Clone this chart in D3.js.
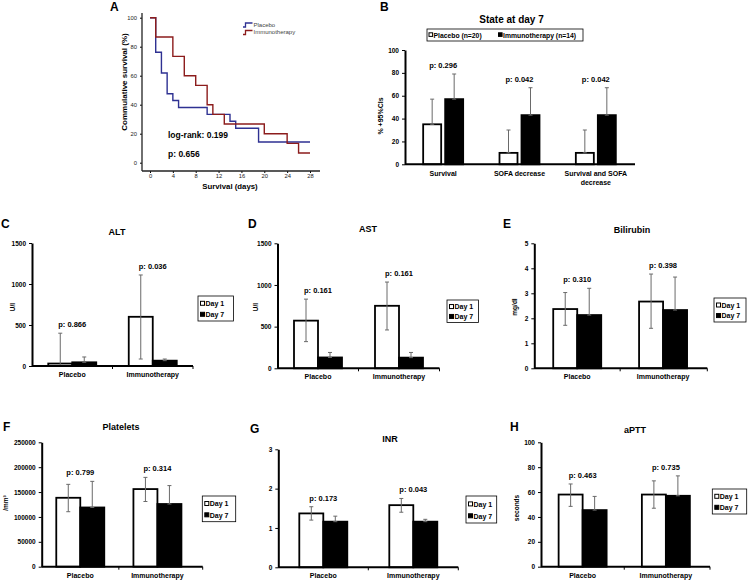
<!DOCTYPE html>
<html>
<head>
<meta charset="utf-8">
<script src="https://cdn.jsdelivr.net/npm/d3@7"></script>
<style>
body { margin: 0; background: #fff; }
svg { font-family: "Liberation Sans", Arial, sans-serif; }
</style>
</head>
<body>
<svg width="748" height="581"></svg>
<script>
"use strict";

// Data: Kaplan-Meier steps (panel A).

var placeboDays = [0, 1, 2, 3, 4, 5, 10, 14, 15, 19, 28];
var placeboSurvival = [100, 76.2, 61.9, 47.6, 42.9, 38.1, 33.3, 28.6, 23.8, 14.3, 14.3];
var immunoDays = [0, 1, 4, 6, 8, 10, 11, 13, 20, 24, 26, 28];
var immunoSurvival = [100, 86.7, 73.3, 60, 53.3, 40, 33.3, 26.7, 20, 13.3, 6.7, 6.7];
var dayTicks = [0, 4, 8, 12, 16, 20, 24, 28];
var percentTicks = [0, 20, 40, 60, 80, 100];

// Data: state at day 7 (panel B).

var stateCategories = ["Survival", "SOFA decrease", "Survival and SOFA decrease"];
var statePlacebo = [35, 10, 10];
var statePlaceboUpper = [57, 30, 30];
var stateImmuno = [57, 43, 43];
var stateImmunoUpper = [79, 67, 67];
var stateP = ["p: 0.296", "p: 0.042", "p: 0.042"];

// Data: laboratory values (panels C-H).

var groups = ["Placebo", "Immunotherapy"];
var dayNames = ["Day 1", "Day 7"];

var altDay1 = [30, 600], altDay1Lower = [0, 85], altDay1Upper = [400, 1110];
var altDay7 = [45, 65], altDay7Upper = [110, 85];
var altP = ["p: 0.866", "p: 0.036"];
var altTicks = [0, 500, 1000, 1500];

var astDay1 = [572, 750], astDay1Lower = [320, 460], astDay1Upper = [830, 1035];
var astDay7 = [130, 128], astDay7Upper = [190, 190];
var astP = ["p: 0.161", "p: 0.161"];
var astTicks = [0, 500, 1000, 1500];

var biliDay1 = [2.37, 2.67], biliDay1Lower = [1.72, 1.6], biliDay1Upper = [3.03, 3.77];
var biliDay7 = [2.13, 2.33], biliDay7Upper = [3.2, 3.65];
var biliP = ["p: 0.310", "p: 0.398"];
var biliTicks = [0, 1, 2, 3, 4, 5];

var pltDay1 = [138500, 156000], pltDay1Lower = [110500, 131000], pltDay1Upper = [165500, 179500];
var pltDay7 = [119000, 126000], pltDay7Upper = [171500, 163000];
var pltP = ["p: 0.799", "p: 0.314"];
var pltTicks = [0, 50000, 100000, 150000, 200000, 250000];

var inrDay1 = [1.37, 1.58], inrDay1Lower = [1.2, 1.4], inrDay1Upper = [1.54, 1.75];
var inrDay7 = [1.16, 1.16], inrDay7Upper = [1.3, 1.22];
var inrP = ["p: 0.173", "p: 0.043"];
var inrTicks = [0, 1, 2, 3];

var apttDay1 = [58, 58], apttDay1Lower = [48.5, 47], apttDay1Upper = [66.5, 69];
var apttDay7 = [45.5, 57], apttDay7Upper = [56.5, 73];
var apttP = ["p: 0.463", "p: 0.735"];
var apttTicks = [0, 20, 40, 60, 80, 100];

// SVG and styles.

var svg = d3.select("svg");
var PlaceboColor = "#2e3192";
var ImmunoColor = "#8c1c1c";
var ErrColor = "#6a6a6a";
var BarStroke = 1.8;
var TickFont = 6.5;

var PanelLetter = function(letter, x, y){
    svg.append("text")
        .attr("x", x).attr("y", y)
        .style("font-size", "12px").style("font-weight", "bold")
        .text(letter);
};

var StyleAxis = function(g){
    g.select(".domain").attr("stroke-width", 2);
    g.selectAll(".tick line").attr("stroke-width", 1);
    g.selectAll(".tick text")
        .style("font-size", TickFont + "px")
        .style("font-weight", "bold")
        .attr("font-family", null);
};

var ErrorBar = function(g, x, lo, hi){
    g.append("line")
        .attr("x1", x).attr("x2", x).attr("y1", lo).attr("y2", hi)
        .attr("stroke", ErrColor).attr("stroke-width", 1);
    g.append("line")
        .attr("x1", x - 2).attr("x2", x + 2).attr("y1", hi).attr("y2", hi)
        .attr("stroke", ErrColor).attr("stroke-width", 1);
    if (lo !== hi){
        g.append("line")
            .attr("x1", x - 2).attr("x2", x + 2).attr("y1", lo).attr("y2", lo)
            .attr("stroke", ErrColor).attr("stroke-width", 1);
    }
};

// Panel A: survival curves.

var xA = d3.scaleLinear().domain([0, 28]).range([150, 310]);
var yA = d3.scaleLinear().domain([0, 100]).range([162.7, 17.7]);
var gA = svg.append("g");

PanelLetter("A", 110, 10.5);

gA.append("g")
    .attr("transform", "translate(0,171)")
    .call(d3.axisBottom(xA).tickValues(dayTicks).tickSize(2).tickPadding(1).tickSizeOuter(0))
    .call(function(g){
        g.select(".domain").remove();
        g.selectAll(".tick text").style("font-size", "5.8px").attr("fill", "#222").attr("font-family", null);
    });

gA.append("g")
    .attr("transform", "translate(142,0)")
    .call(d3.axisLeft(yA).tickValues(percentTicks).tickSize(2).tickSizeOuter(0))
    .call(function(g){
        g.select(".domain").remove();
        g.selectAll(".tick text").style("font-size", "5.8px").attr("fill", "#222").attr("font-family", null);
    });

gA.append("line").attr("x1", 142).attr("x2", 142).attr("y1", 13).attr("y2", 171)
    .attr("stroke", "#222").attr("stroke-width", 1.3);
gA.append("line").attr("x1", 142).attr("x2", 320).attr("y1", 171).attr("y2", 171)
    .attr("stroke", "#222").attr("stroke-width", 1.3);

var stepLine = d3.line()
    .x(function(d){ return xA(d[0]); })
    .y(function(d){ return yA(d[1]); })
    .curve(d3.curveStepAfter);

gA.append("path")
    .datum(d3.zip(placeboDays, placeboSurvival))
    .attr("d", stepLine)
    .attr("fill", "none").attr("stroke", PlaceboColor).attr("stroke-width", 1.4);
gA.append("path")
    .datum(d3.zip(immunoDays, immunoSurvival))
    .attr("d", stepLine)
    .attr("fill", "none").attr("stroke", ImmunoColor).attr("stroke-width", 1.4);

// Legend of panel A.
[["Placebo", PlaceboColor, 26.5], ["Immunotherapy", ImmunoColor, 34]].forEach(function(d){
    gA.append("path")
        .attr("d", "M243," + (d[2] + 0.5) + "h2.5v-4h7")
        .attr("fill", "none").attr("stroke", d[1]).attr("stroke-width", 1.3);
    gA.append("text")
        .attr("x", 253.5).attr("y", d[2])
        .style("font-size", "6px").attr("fill", "#444")
        .text(d[0]);
});

gA.append("text").attr("x", 124).attr("y", 82)
    .attr("transform", "rotate(-90,124,82)")
    .attr("text-anchor", "middle").attr("dy", "0.35em")
    .style("font-size", "8px").style("font-weight", "bold")
    .text("Commulative survival (%)");
gA.append("text").attr("x", 230).attr("y", 188.5)
    .attr("text-anchor", "middle")
    .style("font-size", "7.8px").style("font-weight", "bold")
    .text("Survival (days)");
gA.append("text").attr("x", 168).attr("y", 138)
    .style("font-size", "8.5px").style("font-weight", "bold")
    .text("log-rank: 0.199");
gA.append("text").attr("x", 168).attr("y", 157)
    .style("font-size", "8.5px").style("font-weight", "bold")
    .text("p: 0.656");

// Panel B: state at day 7.

var xB = d3.scaleBand().domain(stateCategories).range([405, 634]);
var yB = d3.scaleLinear().domain([0, 100]).range([164.3, 50]);
var gB = svg.append("g");

PanelLetter("B", 380, 10.7);

gB.append("text").attr("x", 511.5).attr("y", 22.7)
    .attr("text-anchor", "middle")
    .style("font-size", "10px").style("font-weight", "bold")
    .text("State at day 7");

gB.append("rect").attr("x", 427).attr("y", 29).attr("width", 156).attr("height", 12)
    .attr("fill", "#fff").attr("stroke", "#000").attr("stroke-width", 0.8);
[["Placebo (n=20)", "#fff", 429], ["Immunotherapy (n=14)", "#000", 498.5]].forEach(function(d){
    gB.append("rect").attr("x", d[2]).attr("y", 32.8).attr("width", 3.6).attr("height", 3.6)
        .attr("fill", d[1]).attr("stroke", "#000").attr("stroke-width", 1);
    gB.append("text").attr("x", d[2] + 4.5).attr("y", 37.7)
        .style("font-size", "6.8px").style("font-weight", "bold")
        .text(d[0]);
});

gB.append("g")
    .attr("transform", "translate(405,0)")
    .call(d3.axisLeft(yB).tickValues(percentTicks).tickSize(3).tickSizeOuter(0))
    .call(StyleAxis);

gB.append("text").attr("x", 381).attr("y", 116)
    .attr("transform", "rotate(-90,381,116)")
    .attr("text-anchor", "middle").attr("dy", "0.35em")
    .style("font-size", "7px").style("font-weight", "bold")
    .text("% +95%CIs");

stateCategories.forEach(function(c, i){
    var cx = xB(c) + xB.bandwidth()/2;
    gB.append("rect")
        .attr("x", cx - 20).attr("y", yB(statePlacebo[i]))
        .attr("width", 18).attr("height", yB(0) - yB(statePlacebo[i]))
        .attr("fill", "#fff").attr("stroke", "#000").attr("stroke-width", BarStroke);
    gB.append("rect")
        .attr("x", cx + 2).attr("y", yB(stateImmuno[i]))
        .attr("width", 18).attr("height", yB(0) - yB(stateImmuno[i]))
        .attr("fill", "#000").attr("stroke", "#000").attr("stroke-width", BarStroke);
    ErrorBar(gB, cx - 11, yB(statePlacebo[i]), yB(statePlaceboUpper[i]));
    ErrorBar(gB, cx + 11, yB(stateImmuno[i]), yB(stateImmunoUpper[i]));
    var top = Math.max(statePlaceboUpper[i], stateImmunoUpper[i]);
    gB.append("text").attr("x", cx).attr("y", yB(top) - 6)
        .attr("text-anchor", "middle")
        .style("font-size", "7.5px").style("font-weight", "bold")
        .text(stateP[i]);
});

gB.append("line").attr("x1", 405).attr("x2", 635).attr("y1", 164.3).attr("y2", 164.3)
    .attr("stroke", "#000").attr("stroke-width", 2);

// Category labels with wrapping.
stateCategories.forEach(function(c){
    var cx = xB(c) + xB.bandwidth()/2;
    var lines = c === "Survival and SOFA decrease" ? ["Survival and SOFA", "decrease"] : [c];
    lines.forEach(function(l, k){
        gB.append("text").attr("x", cx).attr("y", 176 + k*8.5)
            .attr("text-anchor", "middle")
            .style("font-size", "7px").style("font-weight", "bold")
            .text(l);
    });
});

// Panels C-H: laboratory values.

var labPanels = [
    {letter: "C", lx: 1, ly: 228, title: "ALT", tx: 117, ty: 235, unit: "U/l", ux: 13, uy: 307,
     day1: altDay1, lower: altDay1Lower, upper: altDay1Upper, day7: altDay7, upper7: altDay7Upper,
     p: altP, ticks: altTicks, left: 32, right: 193, axisEnd: 193, top: 243, bottom: 366,
     legend: [198, 296, 35.5, 25]},
    {letter: "D", lx: 248, ly: 228, title: "AST", tx: 368, ty: 232, unit: "U/l", ux: 256, uy: 307,
     day1: astDay1, lower: astDay1Lower, upper: astDay1Upper, day7: astDay7, upper7: astDay7Upper,
     p: astP, ticks: astTicks, left: 277.5, right: 439.5, axisEnd: 439.5, top: 243.3, bottom: 368.3,
     legend: [447, 300, 31.5, 22.5]},
    {letter: "E", lx: 503, ly: 228, title: "Bilirubin", tx: 632, ty: 233, unit: "mg/dl", ux: 515, uy: 307,
     day1: biliDay1, lower: biliDay1Lower, upper: biliDay1Upper, day7: biliDay7, upper7: biliDay7Upper,
     p: biliP, ticks: biliTicks, left: 534.3, right: 706, axisEnd: 707.3, top: 243.3, bottom: 368.3,
     legend: [714, 298, 32, 24]},
    {letter: "F", lx: 3, ly: 431, title: "Platelets", tx: 121, ty: 430, unit: "/mm³", ux: 6, uy: 503,
     day1: pltDay1, lower: pltDay1Lower, upper: pltDay1Upper, day7: pltDay7, upper7: pltDay7Upper,
     p: pltP, ticks: pltTicks, left: 41.7, right: 196, axisEnd: 202.7, top: 442.3, bottom: 566.7,
     legend: [202.3, 496, 33.4, 25.7]},
    {letter: "G", lx: 250, ly: 433, title: "INR", tx: 390, ty: 442, unit: "", ux: 0, uy: 0,
     day1: inrDay1, lower: inrDay1Lower, upper: inrDay1Upper, day7: inrDay7, upper7: inrDay7Upper,
     p: inrP, ticks: inrTicks, left: 278.3, right: 458.3, axisEnd: 458.3, top: 449.3, bottom: 567.3,
     legend: [466, 496, 30.7, 27]},
    {letter: "H", lx: 510, ly: 431, title: "aPTT", tx: 635, ty: 433, unit: "seconds", ux: 517, uy: 508,
     day1: apttDay1, lower: apttDay1Lower, upper: apttDay1Upper, day7: apttDay7, upper7: apttDay7Upper,
     p: apttP, ticks: apttTicks, left: 541, right: 707.5, axisEnd: 710, top: 442.3, bottom: 566.7,
     legend: [712.3, 489, 34.4, 25]}
];

var BarWidth = 24;

var DrawLabPanel = function(cfg){
    var g = svg.append("g");
    var x = d3.scaleBand().domain(groups).range([cfg.left, cfg.right]);
    var y = d3.scaleLinear().domain([0, d3.max(cfg.ticks)]).range([cfg.bottom, cfg.top]);

    PanelLetter(cfg.letter, cfg.lx, cfg.ly);

    g.append("text").attr("x", cfg.tx).attr("y", cfg.ty)
        .attr("text-anchor", "middle")
        .style("font-size", "9px").style("font-weight", "bold")
        .text(cfg.title);

    if (cfg.unit){
        g.append("text").attr("x", cfg.ux).attr("y", cfg.uy)
            .attr("transform", "rotate(-90," + cfg.ux + "," + cfg.uy + ")")
            .attr("text-anchor", "middle").attr("dy", "0.35em")
            .style("font-size", "6.5px").style("font-weight", "bold")
            .text(cfg.unit);
    }

    g.append("g")
        .attr("transform", "translate(" + cfg.left + ",0)")
        .call(d3.axisLeft(y).tickValues(cfg.ticks).tickSize(3).tickSizeOuter(0).tickFormat(d3.format("d")))
        .call(StyleAxis);

    groups.forEach(function(grp, i){
        var cx = x(grp) + x.bandwidth()/2;
        g.append("rect")
            .attr("x", cx - BarWidth).attr("y", y(cfg.day1[i]))
            .attr("width", BarWidth).attr("height", y(0) - y(cfg.day1[i]))
            .attr("fill", "#fff").attr("stroke", "#000").attr("stroke-width", BarStroke);
        g.append("rect")
            .attr("x", cx).attr("y", y(cfg.day7[i]))
            .attr("width", BarWidth).attr("height", y(0) - y(cfg.day7[i]))
            .attr("fill", "#000").attr("stroke", "#000").attr("stroke-width", BarStroke);
        ErrorBar(g, cx - BarWidth/2, y(cfg.lower[i]), y(cfg.upper[i]));
        ErrorBar(g, cx + BarWidth/2, y(cfg.day7[i]), y(cfg.upper7[i]));
        var top = Math.max(cfg.upper[i], cfg.upper7[i]);
        g.append("text").attr("x", cx).attr("y", y(top) - 6)
            .attr("text-anchor", "middle")
            .style("font-size", "7.5px").style("font-weight", "bold")
            .text(cfg.p[i]);
        g.append("text").attr("x", cx).attr("y", cfg.bottom + 11)
            .attr("text-anchor", "middle")
            .style("font-size", "7px").style("font-weight", "bold")
            .text(grp);
    });

    // x axis with ticks at the group boundaries.
    g.append("line").attr("x1", cfg.left).attr("x2", cfg.axisEnd)
        .attr("y1", cfg.bottom).attr("y2", cfg.bottom)
        .attr("stroke", "#000").attr("stroke-width", 2);
    [cfg.left + x.bandwidth(), cfg.axisEnd].forEach(function(tx){
        g.append("line").attr("x1", tx).attr("x2", tx)
            .attr("y1", cfg.bottom).attr("y2", cfg.bottom + 3)
            .attr("stroke", "#000").attr("stroke-width", 1);
    });

    // Legend box.
    var L = cfg.legend;
    g.append("rect").attr("x", L[0]).attr("y", L[1]).attr("width", L[2]).attr("height", L[3])
        .attr("fill", "#fff").attr("stroke", "#000").attr("stroke-width", 0.8);
    dayNames.forEach(function(dn, k){
        var ry = L[1] + L[3]*(k === 0 ? 0.3 : 0.74);
        g.append("rect").attr("x", L[0] + 2.5).attr("y", ry - 2.2).attr("width", 4).attr("height", 4)
            .attr("fill", k === 0 ? "#fff" : "#000").attr("stroke", "#000").attr("stroke-width", 1);
        g.append("text").attr("x", L[0] + 7.5).attr("y", ry + 2.6)
            .style("font-size", "7px").style("font-weight", "bold")
            .text(dn);
    });
};

labPanels.forEach(DrawLabPanel);
</script>
</body>
</html>
